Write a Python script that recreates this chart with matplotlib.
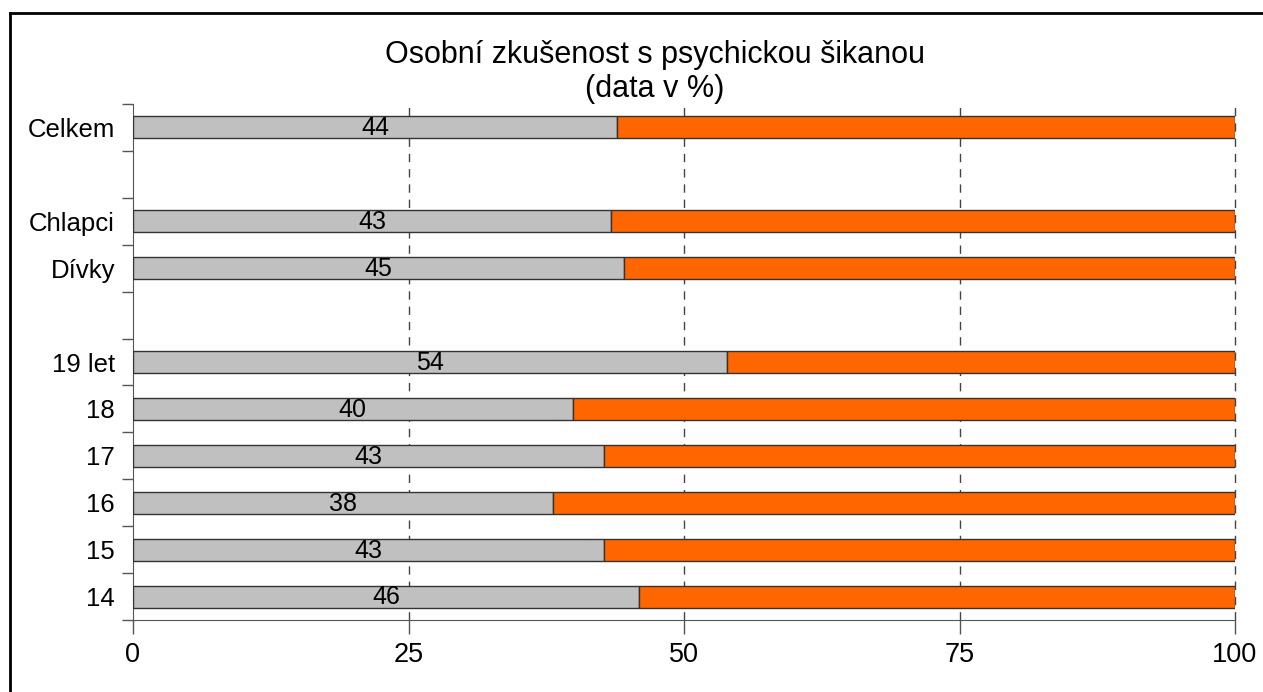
import matplotlib.pyplot as plt
from matplotlib.lines import Line2D
import numpy as np

plt.rcParams["font.family"] = ["Liberation Sans", "DejaVu Sans"]

# kategorie shora dolu, prazdne retezce = mezery
categories = ["Celkem", "", "Chlapci", "Dívky", "", "19 let", "18", "17", "16", "15", "14"]
ano = [43.9, None, 43.4, 44.6, None, 53.9, 39.9, 42.7, 38.1, 42.7, 45.9]
x_ticks = [0, 25, 50, 75, 100]
title = "Osobní zkušenost s psychickou šikanou\n(data v %)"

fig = plt.figure(figsize=(12.63, 6.92), dpi=100)
ax = fig.add_axes([133 / 1263, 1 - 620 / 692, 1102 / 1263, 516 / 692])

pos = [i for i, v in enumerate(ano) if v is not None]
vals = np.array([v for v in ano if v is not None])
rest = 100 - vals

ax.barh(pos, vals, height=0.47, color="#C0C0C0", edgecolor="#333333", linewidth=1, zorder=3)
ax.barh(pos, rest, left=vals, height=0.47, color="#FF6600", edgecolor="#333333", linewidth=1, zorder=3)

for p, v in zip(pos, vals):
    ax.text(v / 2, p + 0.02, f"{v:.0f}", ha="center", va="center", fontsize=18, zorder=4)

ax.set_xlim(0, 100)
ax.set_ylim(10.5, -0.5)
ax.set_xticks(x_ticks)
ax.set_xticklabels([str(t) for t in x_ticks], fontsize=19.5)
ax.set_yticks(range(len(categories)))
ax.set_yticklabels(categories, fontsize=18.5)
ax.set_yticks(np.arange(-0.5, 11, 1), minor=True)
ax.tick_params(axis="y", which="major", length=0, pad=13)
ax.tick_params(axis="y", which="minor", length=8, width=1, color="#555555")
ax.tick_params(axis="x", length=10, width=1, color="#555555", pad=6)

for x in x_ticks[1:]:
    ax.axvline(x, color="#444444", linestyle=(0, (6, 5)), linewidth=1, zorder=1, clip_on=False)

for s in ["top", "right"]:
    ax.spines[s].set_visible(False)
ax.spines["left"].set_color("#555555")
ax.spines["bottom"].set_color("#555555")

fig.text(655 / 1263, 1 - 72 / 692, title, ha="center", va="center", fontsize=22, linespacing=1.15)

# ramecek kolem grafu
fig.add_artist(Line2D([10 / 1263, 1], [1 - 13 / 692, 1 - 13 / 692], color="black", linewidth=2))
fig.add_artist(Line2D([10 / 1263, 10 / 1263], [0, 1 - 13 / 692], color="black", linewidth=2))

fig.savefig("out.png", dpi=100)
